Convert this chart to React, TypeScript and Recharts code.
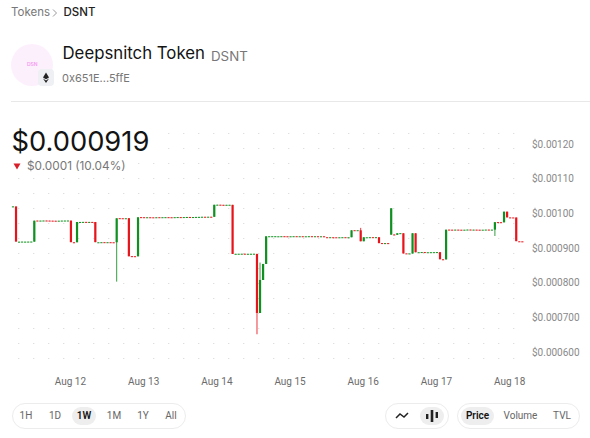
import { Bar, CartesianGrid, ComposedChart, XAxis, YAxis } from 'recharts';

// hourly candles, one week, 168 of them
const opens = [
  0.001019, 0.0010198, 0.000918, 0.0009182, 0.0009181, 0.0009182, 0.0009183, 0.0009183,
  0.0009792, 0.0009788, 0.000979, 0.0009793, 0.0009791, 0.0009789, 0.0009787, 0.0009786, 0.0009788, 0.0009789, 0.000979, 0.000979,
  0.0009166, 0.0009165, 0.0009748, 0.000975, 0.0009753, 0.0009749, 0.0009752, 0.000975,
  0.0009162, 0.0009164, 0.0009168, 0.0009164, 0.0009167, 0.0009165, 0.0009165,
  0.000986, 0.0009858, 0.0009855, 0.000986,
  0.0008765, 0.0008763, 0.000876,
  0.000989, 0.0009888, 0.0009884, 0.0009887, 0.0009885, 0.0009884, 0.0009888, 0.0009885,
  0.0009886, 0.0009889, 0.0009887, 0.0009886, 0.0009889, 0.0009891, 0.0009888, 0.0009892,
  0.0009895, 0.000989, 0.0009893, 0.0009896, 0.0009898, 0.0009901, 0.0009899, 0.0009902, 0.00099,
  0.0010243, 0.0010249, 0.0010246, 0.0010243, 0.0010244, 0.0010245,
  0.000883, 0.0008831, 0.0008832, 0.0008835, 0.000883, 0.0008831, 0.0008832, 0.000883,
  0.0007126, 0.0008078, 0.000854,
  0.0009336, 0.0009337, 0.0009338, 0.0009336, 0.0009338, 0.000934, 0.0009338, 0.0009335, 0.0009338,
  0.000934, 0.0009337, 0.0009339, 0.0009336, 0.0009338, 0.000934, 0.0009336, 0.0009339, 0.0009336, 0.0009338,
  0.0009311, 0.0009308, 0.0009311, 0.0009309, 0.0009307, 0.0009309, 0.0009311, 0.0009308, 0.000931,
  0.0009513, 0.000951, 0.000951, 0.0009194,
  0.0009308, 0.0009309, 0.0009312, 0.0009309, 0.000931,
  0.0009142, 0.0009139, 0.0009141,
  0.0009384, 0.000939, 0.000938, 0.0009425, 0.0009425,
  0.0008845, 0.0008841, 0.000884, 0.0009425,
  0.0008876, 0.0008878, 0.0008883, 0.0008877, 0.0008878, 0.0008879, 0.000888, 0.000888,
  0.0008675, 0.000867,
  0.0009531, 0.0009529, 0.0009526, 0.000953, 0.0009528, 0.0009526, 0.0009528, 0.0009532, 0.0009527, 0.000953, 0.0009528, 0.0009526, 0.0009528, 0.0009531, 0.0009527,
  0.000953, 0.0009747, 0.0009744, 0.000974,
  0.0010048, 0.0009883, 0.0009881, 0.000988, 0.0009194, 0.0009192,
];
const closes = [
  0.00102, 0.0009185, 0.0009183, 0.0009185, 0.0009184, 0.0009185, 0.0009186, 0.0009788,
  0.0009788, 0.0009791, 0.0009793, 0.0009789, 0.0009787, 0.0009786, 0.0009784, 0.0009788, 0.0009791, 0.0009792, 0.0009793, 0.0009168,
  0.0009162, 0.000975, 0.0009751, 0.0009753, 0.000975, 0.0009752, 0.0009749, 0.0009168,
  0.0009165, 0.0009167, 0.0009164, 0.0009167, 0.0009163, 0.0009162, 0.0009857,
  0.0009856, 0.0009853, 0.0009858, 0.0008761,
  0.0008762, 0.000876, 0.0009886,
  0.0009887, 0.0009884, 0.0009887, 0.0009884, 0.0009883, 0.0009887, 0.0009884, 0.0009888,
  0.0009889, 0.0009886, 0.0009885, 0.0009889, 0.0009892, 0.0009888, 0.0009892, 0.0009895,
  0.000989, 0.0009893, 0.0009896, 0.0009898, 0.0009901, 0.0009899, 0.0009902, 0.0009899, 0.0010247,
  0.0010249, 0.0010246, 0.0010243, 0.0010246, 0.0010247, 0.0008828,
  0.0008833, 0.0008834, 0.0008835, 0.000883, 0.0008833, 0.0008834, 0.0008835, 0.0007126,
  0.0008078, 0.000854, 0.0009338,
  0.0009339, 0.000934, 0.000934, 0.0009338, 0.000934, 0.0009337, 0.0009335, 0.0009338, 0.000934,
  0.0009337, 0.0009339, 0.0009336, 0.0009338, 0.000934, 0.0009336, 0.0009339, 0.0009336, 0.0009338, 0.0009335,
  0.0009308, 0.0009311, 0.0009309, 0.0009307, 0.0009309, 0.0009311, 0.0009308, 0.000931, 0.0009511,
  0.000951, 0.0009513, 0.0009194, 0.0009309,
  0.0009309, 0.0009312, 0.0009309, 0.0009312, 0.000914,
  0.0009139, 0.0009141, 0.0009139,
  0.0010146, 0.000938, 0.0009425, 0.0009428, 0.0008842,
  0.0008841, 0.0008843, 0.0009425, 0.0008877,
  0.0008878, 0.0008883, 0.0008877, 0.0008878, 0.0008879, 0.000888, 0.0008882, 0.0008675,
  0.000867, 0.0009528,
  0.0009529, 0.0009526, 0.000953, 0.0009528, 0.0009526, 0.0009528, 0.0009532, 0.0009527, 0.000953, 0.0009528, 0.0009526, 0.0009528, 0.0009531, 0.0009527, 0.000953,
  0.0009745, 0.0009744, 0.000974, 0.0010048,
  0.0009883, 0.0009881, 0.000988, 0.0009197, 0.0009192, 0.000919,
];
// only the candles with a visible wick
const wickLows: Record<number, number> = { 34: 0.000803, 80: 0.0006512, 158: 0.0009347 };
const wickHighs: Record<number, number> = { 81: 0.000858, 114: 0.000958 };

const priceTicks = [0.0012, 0.0011, 0.001, 0.0009, 0.0008, 0.0007, 0.0006];
const dateTicks = [19, 43, 67, 91, 115, 139, 163];
const dateLabels = ['Aug 12', 'Aug 13', 'Aug 14', 'Aug 15', 'Aug 16', 'Aug 17', 'Aug 18'];
const ranges = ['1H', '1D', '1W', '1M', '1Y', 'All'];

const candles = opens.map((open, i) => ({
  hour: i,
  open,
  close: closes[i],
  low: wickLows[i] ?? Math.min(open, closes[i]),
  high: wickHighs[i] ?? Math.max(open, closes[i]),
}));

const FONT = 'Inter, sans-serif';
const SMALL_FONT = 'Roboto, sans-serif';
const UP = '#0f9020';
const DOWN = '#e8141c';
const GRID_ROWS = [133.5, 148.5, 163.5, 178.5, 193.5, 208.5, 223.5, 238.5, 253.5, 268.5, 283.5, 298.5, 313.5, 328.5, 343.5, 358.5];

function Candle(props: any) {
  const { x, y, width, height, payload } = props;
  const { open, close, high, low } = payload;
  const cx = x + width / 2;
  const perUnit = high > low ? height / (high - low) : 0;
  const top = y + (high - Math.max(open, close)) * perUnit;
  const bodyHeight = Math.max(Math.abs(open - close) * perUnit, 1);
  const color = close >= open ? UP : DOWN;
  return (
    <g>
      {high > low && <line x1={cx} x2={cx} y1={y} y2={y + height} stroke={color} strokeWidth={1} opacity={0.85} />}
      <rect x={cx - 1.1} y={top} width={2.2} height={bodyHeight} fill={color} />
    </g>
  );
}

const formatPrice = (v: number) => '$' + v.toFixed(v >= 0.001 ? 5 : 6);
const formatDate = (v: number) => dateLabels[dateTicks.indexOf(v)] ?? '';

const at = (left: number, top: number, style: React.CSSProperties = {}): React.CSSProperties => ({
  position: 'absolute',
  left,
  top,
  whiteSpace: 'nowrap',
  ...style,
});

const pill = (left: number, width: number): React.CSSProperties =>
  at(left, 403, { width, height: 24, border: '1px solid #ececec', borderRadius: 13 });

const rangeCenters = [26, 55, 84, 114, 143, 171];

export default function App() {
  return (
    <div style={{ position: 'absolute', left: 0, top: 0, width: 590, height: 438, background: '#fff', fontFamily: FONT, overflow: 'hidden' }}>
      <div style={at(0, 120)}>
        <ComposedChart
          width={590}
          height={270}
          data={candles}
          margin={{ top: 8, right: 0, bottom: 0, left: 10.975 }}
          barSize={2}
        >
          <CartesianGrid
            vertical={false}
            horizontalPoints={GRID_ROWS.map((row) => row - 120)}
            stroke="#d4d4d4"
            strokeDasharray="1 14"
            strokeDashoffset={-7.3}
          />
          <XAxis
            dataKey="hour"
            type="category"
            ticks={dateTicks}
            interval={0}
            tickFormatter={formatDate}
            axisLine={false}
            tickLine={false}
            tickSize={0}
            tickMargin={16}
            height={28}
            tick={{ fontSize: 10, fill: '#6b6b6b', fontFamily: SMALL_FONT }}
          />
          <YAxis
            orientation="right"
            domain={[0.00057116, 0.00124614]}
            ticks={priceTicks}
            tickFormatter={formatPrice}
            axisLine={false}
            tickLine={false}
            tickSize={0}
            tickMargin={8.6}
            width={66.6}
            interval={0}
            tick={{ fontSize: 10, fill: '#8a8a8a', fontFamily: SMALL_FONT, textAnchor: 'start' }}
          />
          <Bar
            dataKey={(d: any) => [d.low, d.high]}
            shape={(p: any) => <Candle {...p} />}
            isAnimationActive={false}
          />
        </ComposedChart>
      </div>

      <div style={at(11, 5, { fontSize: 11.5, color: '#777' })}>Tokens</div>
      <svg style={at(52, 9)} width={6} height={8}>
        <polyline points="1,0.5 4.5,4 1,7.5" fill="none" stroke="#999" strokeWidth={1} />
      </svg>
      <div style={at(63.5, 5, { fontSize: 11.5, color: '#222', fontWeight: 500 })}>DSNT</div>

      <div style={at(11, 44, { width: 42, height: 42, borderRadius: 21, background: '#fdf0fd' })} />
      <div style={at(27, 61, { fontSize: 5, color: '#f49af0', fontWeight: 600 })}>DSN</div>
      <div style={at(38, 69, { width: 16, height: 17, borderRadius: 4, background: '#eef0f4' })}>
        <svg width={16} height={17}>
          <polygon points="8,3.5 11,8.5 8,10.3 5,8.5" fill="#222" />
          <polygon points="5,9.6 8,11.4 11,9.6 8,14" fill="#222" />
        </svg>
      </div>
      <div style={at(62.5, 43, { fontSize: 16.8, color: '#131313' })}>Deepsnitch Token</div>
      <div style={at(211, 48, { fontSize: 13.3, color: '#777' })}>DSNT</div>
      <div style={at(62, 71, { fontSize: 11, color: '#777' })}>0x651E...5ffE</div>
      <div style={at(11, 101, { width: 579, height: 1, background: '#e8e8e8' })} />

      <div style={at(0, 122, { width: 155, height: 36, background: '#fff' })} />
      <div style={at(11.5, 125, { fontSize: 27.3, color: '#131313' })}>$0.000919</div>
      <div style={at(0, 158, { width: 130, height: 16, background: '#fff' })} />
      <svg style={at(13, 163)} width={8} height={7}>
        <polygon points="0.5,0.5 7.5,0.5 4,6.5" fill="#d8202a" />
      </svg>
      <div style={at(27, 159, { fontSize: 11.8, color: '#777' })}>$0.0001 (10.04%)</div>

      <div style={pill(12, 172)} />
      <div style={at(72, 407, { width: 24, height: 18, borderRadius: 9, background: '#eeeeee' })} />
      {ranges.map((r, i) => (
        <div
          key={r}
          style={at(rangeCenters[i] - 15, 410, {
            width: 30,
            textAlign: 'center',
            fontFamily: SMALL_FONT,
            fontSize: 10,
            fontWeight: r === '1W' ? 600 : 400,
            color: r === '1W' ? '#131313' : '#666',
          })}
        >
          {r}
        </div>
      ))}

      <div style={pill(385, 62)} />
      <svg style={at(394, 410)} width={16} height={12}>
        <polyline points="2,8 6,4 10,7 14,3" fill="none" stroke="#222" strokeWidth={1.5} />
      </svg>
      <div style={at(420, 407, { width: 24, height: 18, borderRadius: 9, background: '#eeeeee' })} />
      <svg style={at(425, 408)} width={14} height={16}>
        <rect x={1} y={6} width={2.4} height={5} fill="#222" />
        <rect x={5.7} y={2} width={2.6} height={12} fill="#222" />
        <rect x={10.6} y={4} width={2.4} height={6} fill="#222" />
      </svg>

      <div style={pill(457, 121)} />
      <div style={at(461, 407, { width: 33, height: 18, borderRadius: 9, background: '#eeeeee' })} />
      <div style={at(462, 410, { width: 31, textAlign: 'center', fontFamily: SMALL_FONT, fontSize: 10, fontWeight: 600, color: '#131313' })}>Price</div>
      <div style={at(500, 410, { width: 41, textAlign: 'center', fontFamily: SMALL_FONT, fontSize: 10, color: '#666' })}>Volume</div>
      <div style={at(547, 410, { width: 30, textAlign: 'center', fontFamily: SMALL_FONT, fontSize: 10, color: '#666' })}>TVL</div>
    </div>
  );
}
